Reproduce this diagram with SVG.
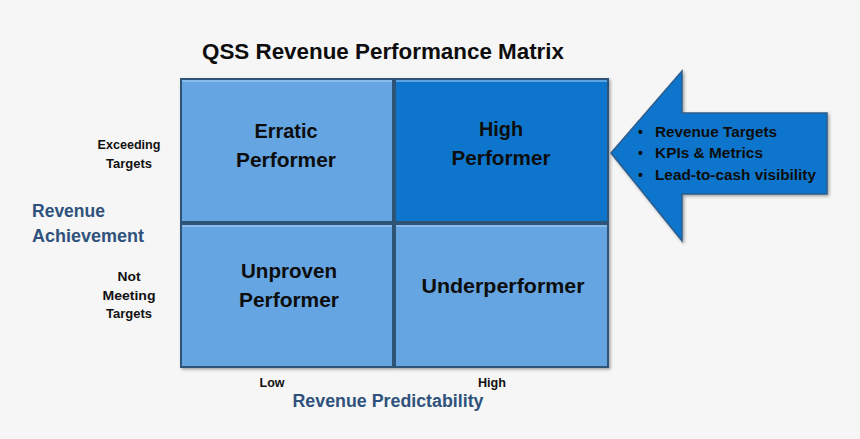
<svg xmlns="http://www.w3.org/2000/svg" width="860" height="439" viewBox="0 0 860 439">
<defs>
<style>
text{font-family:"Liberation Sans",Arial,sans-serif;font-weight:bold;}
.cell{stroke:#2f5477;stroke-width:2;}
.light{fill:#65a5e1;}
.dark{fill:#0776cc;}
.hl{stroke:#a9d2f5;stroke-width:1.2;fill:none;}
.cellt{font-size:20px;fill:#0d0d0d;text-anchor:middle;}
.small{font-size:13px;fill:#111;text-anchor:middle;}
.axis{font-size:18px;fill:#2f527c;}
.bul{font-size:14px;fill:#0d0d0d;}
</style>
<filter id="sh" x="-5%" y="-5%" width="115%" height="115%">
<feDropShadow dx="1.5" dy="1.5" stdDeviation="1.5" flood-color="#000" flood-opacity="0.35"/>
</filter>
</defs>
<rect x="0" y="0" width="860" height="439" fill="#f6f6f6"/>
<text x="383" y="59" text-anchor="middle" font-size="22" fill="#0d0d0d" textLength="362" lengthAdjust="spacingAndGlyphs">QSS Revenue Performance Matrix</text>

<g id="cell-erratic">
<rect class="cell light" x="181" y="79" width="212" height="143" filter="url(#sh)"/>
<line class="hl" x1="182" y1="81" x2="392" y2="81"/>
<text class="cellt" x="286" y="138" textLength="63" lengthAdjust="spacingAndGlyphs">Erratic</text>
<text class="cellt" x="286" y="167" textLength="100" lengthAdjust="spacingAndGlyphs">Performer</text>
</g>
<g id="cell-high">
<rect class="cell dark" x="395" y="79" width="213" height="143" filter="url(#sh)"/>
<line class="hl" x1="396" y1="81" x2="607" y2="81" stroke="#4aa0e6"/>
<text class="cellt" x="501" y="136" textLength="44" lengthAdjust="spacingAndGlyphs">High</text>
<text class="cellt" x="501" y="165" textLength="99" lengthAdjust="spacingAndGlyphs">Performer</text>
</g>
<g id="cell-unproven">
<rect class="cell light" x="181" y="224" width="212" height="143" filter="url(#sh)"/>
<line class="hl" x1="182" y1="226" x2="392" y2="226"/>
<text class="cellt" x="289" y="278" textLength="96" lengthAdjust="spacingAndGlyphs">Unproven</text>
<text class="cellt" x="289" y="307" textLength="100" lengthAdjust="spacingAndGlyphs">Performer</text>
</g>
<g id="cell-under">
<rect class="cell light" x="395" y="224" width="213" height="143" filter="url(#sh)"/>
<line class="hl" x1="396" y1="226" x2="607" y2="226"/>
<text class="cellt" x="503" y="293" textLength="163" lengthAdjust="spacingAndGlyphs">Underperformer</text>
</g>

<g id="y-labels">
<text class="small" x="129" y="149" textLength="63" lengthAdjust="spacingAndGlyphs">Exceeding</text>
<text class="small" x="129" y="168" textLength="46" lengthAdjust="spacingAndGlyphs">Targets</text>
<text class="axis" x="32" y="217" textLength="73" lengthAdjust="spacingAndGlyphs">Revenue</text>
<text class="axis" x="32" y="242" textLength="112" lengthAdjust="spacingAndGlyphs">Achievement</text>
<text class="small" x="129" y="281" textLength="23" lengthAdjust="spacingAndGlyphs">Not</text>
<text class="small" x="129" y="300" textLength="53" lengthAdjust="spacingAndGlyphs">Meeting</text>
<text class="small" x="129" y="318" textLength="46" lengthAdjust="spacingAndGlyphs">Targets</text>
</g>
<g id="x-labels">
<text class="small" x="272" y="387" textLength="25" lengthAdjust="spacingAndGlyphs">Low</text>
<text class="small" x="492" y="387" textLength="28" lengthAdjust="spacingAndGlyphs">High</text>
<text class="axis" x="388" y="407" text-anchor="middle" textLength="191" lengthAdjust="spacingAndGlyphs">Revenue Predictability</text>
</g>

<g id="arrow">
<path d="M611,153 L682,71 L682,113 L827,113 L827,194 L682,194 L682,241 Z" fill="#0776cc" stroke="#2f5d8c" stroke-width="1.5" filter="url(#sh)"/>
<text class="bul" x="638" y="137">•</text>
<text class="bul" x="655" y="137" textLength="122" lengthAdjust="spacingAndGlyphs">Revenue Targets</text>
<text class="bul" x="638" y="158">•</text>
<text class="bul" x="655" y="158" textLength="108" lengthAdjust="spacingAndGlyphs">KPIs &amp; Metrics</text>
<text class="bul" x="638" y="180">•</text>
<text class="bul" x="655" y="180" textLength="161" lengthAdjust="spacingAndGlyphs">Lead-to-cash visibility</text>
</g>
</svg>
